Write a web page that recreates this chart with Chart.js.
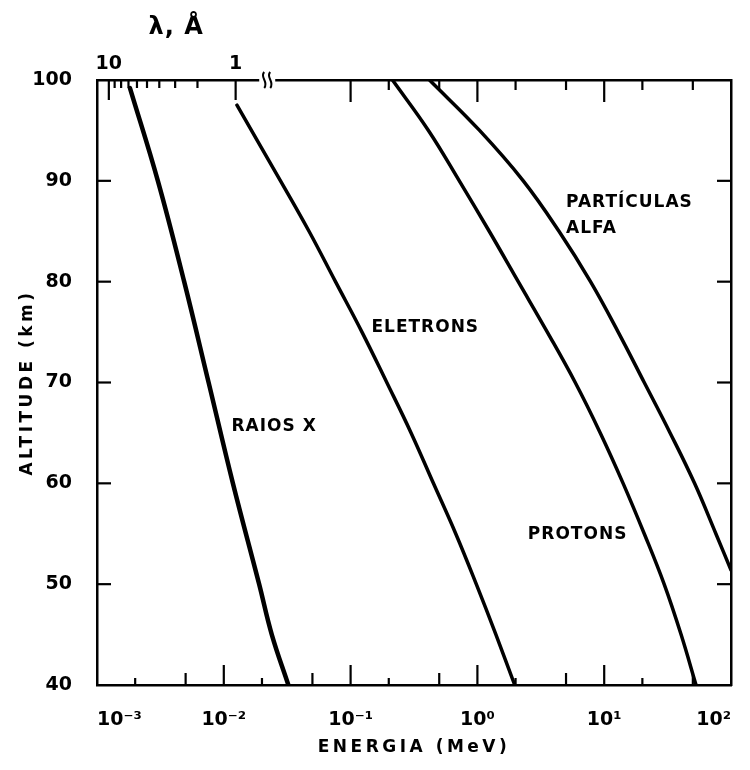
<!DOCTYPE html>
<html>
<head>
<meta charset="utf-8">
<script src="https://cdn.jsdelivr.net/npm/chart.js@4/dist/chart.umd.min.js"></script>
<style>
  html, body { margin: 0; padding: 0; background: #fff; }
  #wrap { width: 750px; height: 770px; position: relative; }
</style>
</head>
<body>
<div id="wrap"><canvas id="grafico"></canvas></div>
<script>
// energia (MeV) x altitude (km) de cada curva
const raiosXEnergia = [1.82e-3, 3.02e-3, 4.87e-3, 7.59e-3, 1.18e-2, 1.9e-2, 2.39e-2, 3.23e-2];
const raiosXAltitude = [99.2, 90, 80, 70, 60, 50, 45, 40];
const eletronsEnergia = [1.27e-2, 2.8e-2, 4.7e-2, 7.6e-2, 0.123, 0.193, 0.30, 0.45, 0.675, 0.98, 1.4, 1.97];
const eletronsAltitude = [97.5, 90, 85, 80, 75, 70, 65, 60, 55, 50, 45, 40];
const protonsEnergia = [0.214, 0.411, 0.72, 1.24, 2.1, 3.56, 5.91, 9.31, 14.1, 20.7, 29.7, 40.4, 53];
const protonsAltitude = [100, 95, 90, 85, 80, 75, 70, 65, 60, 55, 50, 45, 40];
const alfaEnergia = [0.419, 1.04, 2.3, 4.4, 7.8, 12.9, 20.7, 33.1, 51.6, 76, 100];
const alfaAltitude = [100, 95, 90, 85, 80, 75, 70, 65, 60, 55, 51.4];

// marcas dos eixos
const ticksEnergia = [1e-3, 2e-3, 5e-3, 1e-2, 2e-2, 5e-2, 0.1, 0.2, 0.5, 1, 2, 5, 10, 20, 50, 100];
const rotulosEnergia = ['10⁻³', '', '', '10⁻²', '', '', '10⁻¹', '', '', '10⁰', '', '', '10¹', '', '', '10²'];
const ticksLambda = [10, 9, 8, 7, 6, 5, 4, 3, 2, 1]; // Å
const rotulosLambda = ['10', '', '', '', '', '', '', '', '', '1'];
const ticksEnergiaTopo = [0.1, 0.2, 0.5, 1, 2, 5, 10, 20, 50];
const ticksAltitude = [40, 50, 60, 70, 80, 90, 100];

const HC = 0.012398; // MeV·Å, E = hc / λ

const rotulosCurvas = [
    { texto: ['RAIOS X'], energia: 1.15e-2, altitude: 65.6 },
    { texto: ['ELETRONS'], energia: 0.146, altitude: 75.4 },
    { texto: ['PARTÍCULAS', 'ALFA'], energia: 5.0, altitude: 87.8 },
    { texto: ['PROTONS'], energia: 2.5, altitude: 54.9 }
];

function pontos(xs, ys) {
    return xs.map((v, i) => ({ x: v, y: ys[i] }));
}

function curva(xs, ys, largura) {
    return {
        data: pontos(xs, ys),
        borderColor: '#000',
        borderWidth: largura,
        pointRadius: 0,
        tension: 0.4,
        borderCapStyle: 'round',
        fill: false
    };
}

// marcas internas, quebra do eixo superior e textos
const eixosPlugin = {
    id: 'eixos',
    afterDraw(chart) {
        const { ctx, chartArea: a, scales: { x, xTop, y } } = chart;
        ctx.save();
        ctx.strokeStyle = '#000';
        ctx.fillStyle = '#000';
        ctx.lineWidth = 2.2;
        const traco = (x1, y1, x2, y2) => {
            ctx.beginPath(); ctx.moveTo(x1, y1); ctx.lineTo(x2, y2); ctx.stroke();
        };
        const mantissa = v => Math.round(v / Math.pow(10, Math.floor(Math.log10(v) + 1e-9)));

        ticksEnergia.slice(1, -1).forEach(v => {
            const px = x.getPixelForValue(v);
            const m = mantissa(v);
            traco(px, a.bottom, px, a.bottom - (m === 1 ? 20 : m === 5 ? 12 : 7));
        });
        ticksEnergiaTopo.forEach(v => {
            const px = xTop.getPixelForValue(v);
            traco(px, a.top, px, a.top + (mantissa(v) === 1 ? 22 : 10));
        });
        ticksLambda.forEach(l => {
            const px = xTop.getPixelForValue(HC / l);
            traco(px, a.top, px, a.top + (l === 10 || l === 1 ? 20 : 8));
        });
        ticksAltitude.slice(1, -1).forEach(v => {
            const py = y.getPixelForValue(v);
            traco(a.left, py, a.left + 14, py);
            traco(a.right, py, a.right - 14, py);
        });

        // quebra da escala superior
        const pq = xTop.getPixelForValue(0.022);
        ctx.fillStyle = '#fff';
        ctx.fillRect(pq - 8, a.top - 3, 16, 6);
        ctx.fillStyle = '#000';
        ctx.lineWidth = 2;
        [-3, 3].forEach(d => {
            ctx.beginPath();
            ctx.moveTo(pq + d, a.top - 8);
            ctx.bezierCurveTo(pq + d - 5, a.top - 3, pq + d + 5, a.top + 2, pq + d, a.top + 8);
            ctx.stroke();
        });

        // nomes das curvas
        ctx.font = 'bold 17px "DejaVu Sans"';
        ctx.letterSpacing = '1px';
        ctx.textAlign = 'left';
        ctx.textBaseline = 'middle';
        rotulosCurvas.forEach(r => {
            const px = x.getPixelForValue(r.energia);
            const py = y.getPixelForValue(r.altitude);
            r.texto.forEach((t, i) => ctx.fillText(t, px, py + i * 26));
        });

        // títulos dos eixos
        ctx.letterSpacing = '3.5px';
        ctx.textAlign = 'center';
        ctx.fillText('ENERGIA (MeV)', (a.left + a.right) / 2, 748);
        ctx.save();
        ctx.translate(28, (a.top + a.bottom) / 2);
        ctx.rotate(-Math.PI / 2);
        ctx.fillText('ALTITUDE (km)', 0, 0);
        ctx.restore();
        ctx.letterSpacing = '1px';
        ctx.font = 'bold 24px "DejaVu Sans"';
        const lx = (xTop.getPixelForValue(HC / 10) + xTop.getPixelForValue(HC / 1)) / 2;
        ctx.fillText('λ, Å', lx + 4, 28);
        ctx.restore();
    }
};

Chart.defaults.font.family = '"DejaVu Sans"';
Chart.defaults.font.weight = 'bold';
Chart.defaults.color = '#000';

new Chart(document.getElementById('grafico'), {
    type: 'line',
    data: {
        datasets: [
            curva(raiosXEnergia, raiosXAltitude, 4.5),
            curva(eletronsEnergia, eletronsAltitude, 3.5),
            curva(protonsEnergia, protonsAltitude, 3.5),
            curva(alfaEnergia, alfaAltitude, 3.5)
        ]
    },
    options: {
        responsive: true,
        maintainAspectRatio: false,
        animation: false,
        layout: { padding: { left: 0, right: 19, top: 0, bottom: 0 } },
        plugins: { legend: { display: false }, tooltip: { enabled: false } },
        scales: {
            x: {
                type: 'logarithmic',
                position: 'bottom',
                min: 1e-3,
                max: 100,
                afterBuildTicks: s => { s.ticks = ticksEnergia.map(v => ({ value: v })); },
                afterFit: s => { s.height = 85; },
                grid: { display: false },
                border: { display: true, color: '#000', width: 2.5 },
                ticks: {
                    autoSkip: false,
                    maxRotation: 0,
                    align: 'inner',
                    padding: 16,
                    font: { size: 19, weight: 'bold' },
                    callback: (v, i) => rotulosEnergia[i]
                }
            },
            xTop: {
                type: 'logarithmic',
                position: 'top',
                min: 1e-3,
                max: 100,
                afterBuildTicks: s => { s.ticks = ticksLambda.map(l => ({ value: HC / l })); },
                afterFit: s => { s.height = 80; },
                grid: { display: false },
                border: { display: true, color: '#000', width: 2.5 },
                ticks: {
                    autoSkip: false,
                    maxRotation: 0,
                    padding: -3,
                    font: { size: 19, weight: 'bold' },
                    callback: (v, i) => rotulosLambda[i]
                }
            },
            y: {
                type: 'linear',
                position: 'left',
                min: 40,
                max: 100,
                afterBuildTicks: s => { s.ticks = ticksAltitude.map(v => ({ value: v })); },
                afterFit: s => { s.width = 97; },
                grid: { display: false },
                border: { display: true, color: '#000', width: 2.5 },
                ticks: {
                    padding: 17,
                    font: { size: 19, weight: 'bold' }
                }
            },
            y2: {
                type: 'linear',
                position: 'right',
                min: 40,
                max: 100,
                afterFit: s => { s.width = 0; },
                grid: { display: false },
                border: { display: true, color: '#000', width: 2.5 },
                ticks: { display: false }
            }
        }
    },
    plugins: [eixosPlugin]
});
</script>
</body>
</html>
